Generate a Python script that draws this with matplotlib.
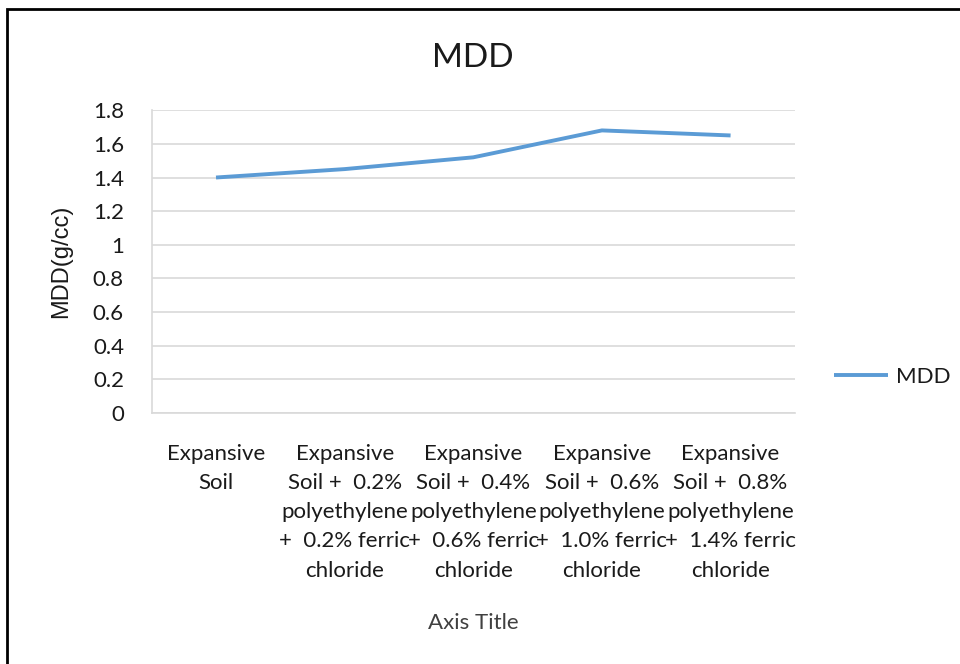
import matplotlib.pyplot as plt
from matplotlib.patches import Rectangle

# ------------------------------
# Data
# ------------------------------
polyethylene = ["0.2%", "0.4%", "0.6%", "0.8%"]
ferric_chloride = ["0.2%", "0.6%", "1.0%", "1.4%"]
mdd = [1.40, 1.45, 1.52, 1.68, 1.65]

labels = ["Expansive\nSoil"]
for pe, fc in zip(polyethylene, ferric_chloride):
    labels.append("Expansive\nSoil +  " + pe + "\npolyethylene\n+  " + fc + " ferric\nchloride")

y_ticks = [0, 0.2, 0.4, 0.6, 0.8, 1, 1.2, 1.4, 1.6, 1.8]
y_tick_labels = ["0", "0.2", "0.4", "0.6", "0.8", "1", "1.2", "1.4", "1.6", "1.8"]

# ------------------------------
# Style
# ------------------------------
FONT = "Lato"
TEXT = "#1a1a1a"
LINE = "#5b9bd5"
GRID = "#d9d9d9"

fig = plt.figure(figsize=(9.6, 6.64), dpi=100)
ax = fig.add_axes([0.158, 0.378, 0.670, 0.456])

x = list(range(len(mdd)))
ax.plot(x, mdd, color=LINE, linewidth=2.8, solid_capstyle="butt", label="MDD")

ax.set_xlim(-0.5, len(mdd) - 0.5)
ax.set_ylim(0, 1.8)
ax.set_yticks(y_ticks)
ax.set_yticklabels(y_tick_labels, fontfamily=FONT, fontsize=16, color=TEXT)
ax.set_xticks(x)
ax.set_xticklabels(labels, fontfamily=FONT, fontsize=16, color=TEXT, linespacing=1.58,
                   va="top")
ax.tick_params(axis="x", length=0, pad=22)
ax.tick_params(axis="y", length=0, pad=20)

ax.grid(axis="y", color=GRID, linewidth=1.2)
ax.set_axisbelow(True)
for side in ["top", "right"]:
    ax.spines[side].set_visible(False)
ax.spines["left"].set_color(GRID)
ax.spines["bottom"].set_color(GRID)
ax.spines["left"].set_linewidth(1.2)
ax.spines["bottom"].set_linewidth(1.2)

ax.set_title("MDD", fontfamily=FONT, fontsize=24, color=TEXT, pad=31)
ax.set_ylabel("MDD(g/cc)", fontfamily="Liberation Sans", fontsize=17, color=TEXT, labelpad=15)
ax.set_xlabel("Axis Title", fontfamily=FONT, fontsize=16, color="#404040", labelpad=23)

leg = ax.legend(loc="center left", bbox_to_anchor=(1.03, 0.12), frameon=False,
                prop={"family": FONT, "size": 16}, handlelength=2.4, handletextpad=0.4)
for t in leg.get_texts():
    t.set_color(TEXT)

# outer chart border
fig.patches.append(Rectangle((0.007, -0.05), 1.05, 1.036, transform=fig.transFigure,
                             fill=False, edgecolor="black", linewidth=2.0))

plt.savefig("out.png", dpi=100)
